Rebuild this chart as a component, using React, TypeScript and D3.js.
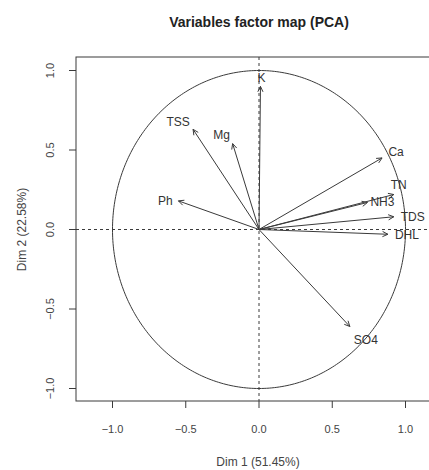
import * as d3 from 'd3';

const variables = ['K', 'TSS', 'Mg', 'Ph', 'Ca', 'TN', 'NH3', 'TDS', 'DHL', 'SO4'];
const dim1 = [0.01, -0.45, -0.18, -0.55, 0.84, 0.92, 0.74, 0.92, 0.88, 0.62];
const dim2 = [0.9, 0.63, 0.54, 0.18, 0.45, 0.22, 0.17, 0.08, -0.03, -0.61];
const xTicks = [-1, -0.5, 0, 0.5, 1];
const yTicks = [-1, -0.5, 0, 0.5, 1];

// label offsets in px from the arrow tip
const labelOffset: Record<string, [number, number]> = {
  K: [1, -9],
  TSS: [-15, -8],
  Mg: [-11, -9],
  Ph: [-13, 0],
  Ca: [14, -6],
  TN: [5, -10],
  NH3: [15, -1],
  TDS: [19, 0],
  DHL: [19, 1],
  SO4: [16, 13],
};

const W = 429;
const H = 470;
const box = { left: 76, top: 57, right: 433, bottom: 401 };
const ink = '#3a3a3a';
const font = 'Liberation Sans, Arial, sans-serif';

export default function App() {
  const x = d3.scaleLinear().domain([-1, 1]).range([112.5, 405.5]);
  const y = d3.scaleLinear().domain([-1, 1]).range([388.5, 70.5]);

  const circle = d3.line<number>()
    .x(a => x(Math.cos(a)))
    .y(a => y(Math.sin(a)))
    .curve(d3.curveLinearClosed)(d3.range(0, 2 * Math.PI, Math.PI / 180));

  const fmt = d3.format('.1f');

  const arrow = (i: number) => {
    const x0 = x(0), y0 = y(0);
    const x1 = x(dim1[i]), y1 = y(dim2[i]);
    const ang = Math.atan2(y1 - y0, x1 - x0);
    const len = 6, spread = Math.PI / 7;
    const hx1 = x1 - len * Math.cos(ang - spread), hy1 = y1 - len * Math.sin(ang - spread);
    const hx2 = x1 - len * Math.cos(ang + spread), hy2 = y1 - len * Math.sin(ang + spread);
    return `M${x0},${y0}L${x1},${y1}M${hx1},${hy1}L${x1},${y1}L${hx2},${hy2}`;
  };

  return (
    <svg width={W} height={H} style={{ position: 'absolute', left: 0, top: 0, background: '#fff' }}
      fontFamily={font}>
      <text x={259} y={27} textAnchor="middle" fontSize={14} fontWeight="bold" fill="#222">
        Variables factor map (PCA)
      </text>

      {/* plot frame */}
      <rect x={box.left} y={box.top} width={box.right - box.left} height={box.bottom - box.top}
        fill="none" stroke={ink} strokeWidth={1} />

      {/* x axis */}
      {xTicks.map(t => (
        <g key={'x' + t}>
          <line x1={x(t)} x2={x(t)} y1={box.bottom} y2={box.bottom + 7} stroke={ink} />
          <text x={x(t)} y={429} textAnchor="middle" dy="0.35em" fontSize={11} fill="#444">{fmt(t)}</text>
        </g>
      ))}
      <text x={258} y={462} textAnchor="middle" dy="0.35em" fontSize={12} fill="#444">Dim 1 (51.45%)</text>

      {/* y axis */}
      {yTicks.map(t => (
        <g key={'y' + t}>
          <line x1={box.left - 7} x2={box.left} y1={y(t)} y2={y(t)} stroke={ink} />
          <text transform={`translate(${box.left - 26},${y(t)}) rotate(-90)`} textAnchor="middle"
            dy="0.35em" fontSize={11} fill="#444">{fmt(t)}</text>
        </g>
      ))}
      <text transform={`translate(22,${y(0)}) rotate(-90)`} textAnchor="middle" dy="0.35em"
        fontSize={12} fill="#444">Dim 2 (22.58%)</text>

      {/* reference lines */}
      <line x1={box.left} x2={box.right} y1={y(0)} y2={y(0)} stroke={ink} strokeDasharray="3,3" />
      <line x1={x(0)} x2={x(0)} y1={box.top} y2={box.bottom} stroke={ink} strokeDasharray="3,3" />

      {/* correlation circle */}
      <path d={circle ?? ''} fill="none" stroke={ink} strokeWidth={1} />

      {/* variable arrows */}
      {variables.map((v, i) => (
        <g key={v}>
          <path d={arrow(i)} fill="none" stroke={ink} strokeWidth={1} />
          <text x={x(dim1[i]) + labelOffset[v][0]} y={y(dim2[i]) + labelOffset[v][1]}
            textAnchor="middle" dy="0.35em" fontSize={12} fill="#333">{v}</text>
        </g>
      ))}
    </svg>
  );
}
